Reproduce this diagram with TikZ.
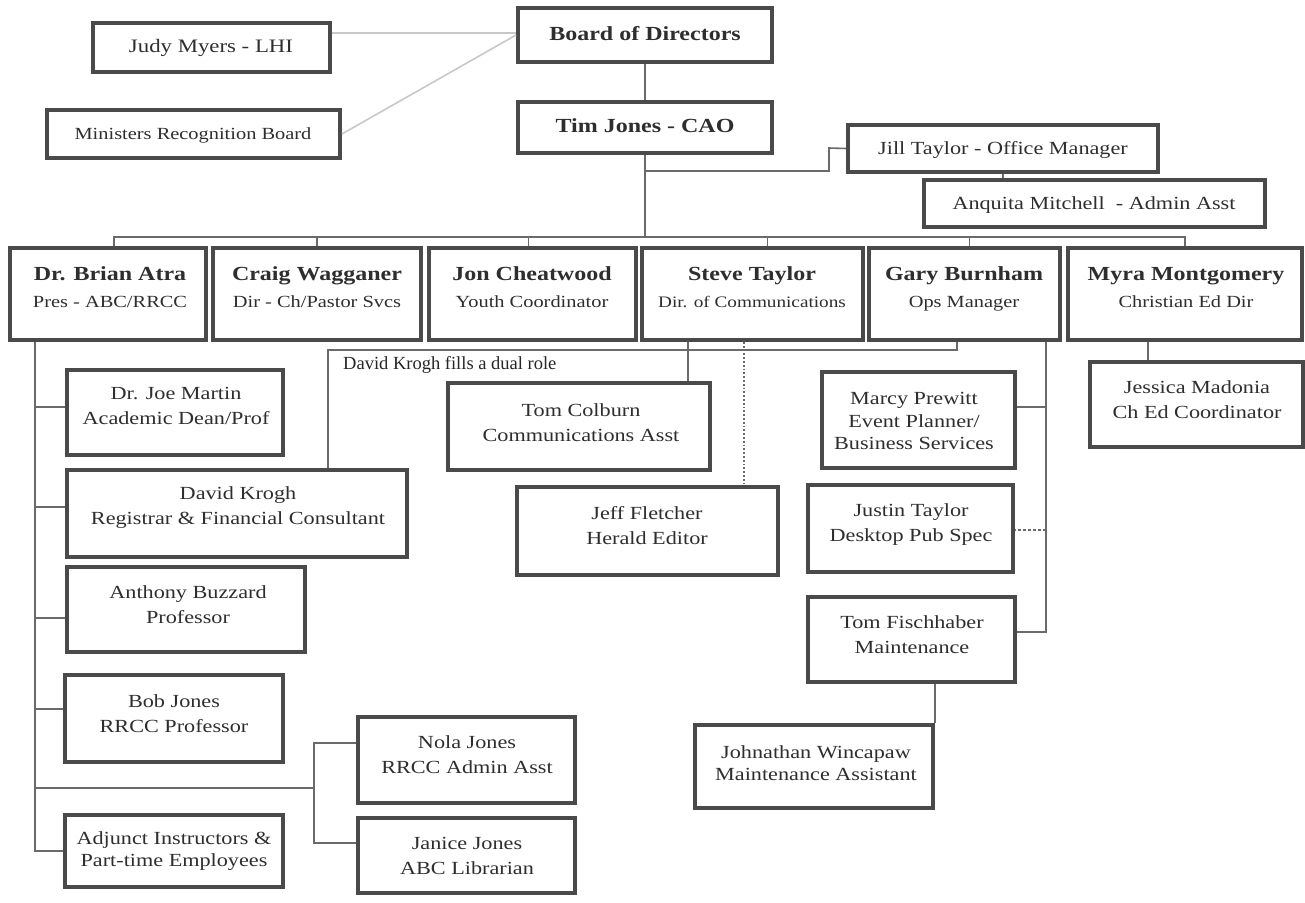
\documentclass[tikz,border=0pt]{standalone}
\usepackage{fontspec}
\setmainfont[FakeStretch=1.2]{Liberation Serif}
\newfontfamily\notefont{Liberation Serif}
\definecolor{ink}{HTML}{2E2E2E}
\definecolor{frame}{HTML}{4A4A4A}
\definecolor{wire}{HTML}{6A6A6A}
\definecolor{faint}{HTML}{C8C8C8}
\newcommand\card[5]{\node[card, minimum width={#4-#2}, minimum height={#5-#3}] (#1) at ({(#2+#4)/2},{(#3+#5)/2}) {};}
\begin{document}
\begin{tikzpicture}[x=1pt,y=-1pt,
  card/.style={draw=frame, line width=3.8pt, fill=white, inner sep=0pt},
  conn/.style={draw=wire, line width=1.6pt},
  faintconn/.style={draw=faint, line width=1.6pt},
  dotconn/.style={draw=wire, line width=1.8pt, dotted},
  dashconn/.style={draw=wire, line width=1.6pt, densely dashed},
  head/.style={text=ink, inner sep=0pt, font=\fontsize{20}{24}\selectfont\bfseries, text height=14pt, text depth=4pt},
  sub/.style={text=ink, inner sep=0pt, font=\fontsize{17}{20}\selectfont, text height=12pt, text depth=4pt},
  body/.style={text=ink, inner sep=0pt, align=center, font=\fontsize{18.5}{25}\selectfont},
  note/.style={text=black!85, inner sep=0pt, anchor=west, font=\notefont\fontsize{18.5}{22}\selectfont}]
\useasboundingbox (0,0) rectangle (1305,902);

% ---- boxes
\card{judy}{93}{23}{330}{72}
\card{ministers}{47}{110}{340}{158}
\card{board}{518}{8}{772}{62}
\card{tim}{518}{102}{772}{153}
\card{jill}{848}{125}{1158}{172}
\card{anquita}{924}{180}{1265}{227}
\card{brian}{10}{248}{206}{340}
\card{craig}{213}{248}{421}{340}
\card{jon}{429}{248}{636}{340}
\card{steve}{642}{248}{863}{340}
\card{gary}{869}{248}{1060}{340}
\card{myra}{1068}{248}{1302}{340}
\card{joe}{67}{370}{283}{455}
\card{krogh}{67}{470}{407}{557}
\card{anthony}{67}{567}{305}{652}
\card{bob}{65}{675}{283}{762}
\card{adjunct}{65}{815}{283}{887}
\card{nola}{358}{717}{575}{803}
\card{janice}{358}{818}{575}{893}
\card{tomc}{448}{383}{710}{470}
\card{jeff}{517}{487}{778}{575}
\card{marcy}{822}{372}{1015}{468}
\card{justin}{808}{485}{1013}{572}
\card{tomf}{808}{597}{1015}{682}
\card{johnathan}{695}{725}{933}{808}
\card{jessica}{1090}{362}{1303}{447}

% ---- texts
\node[head] (board-t) at (645,35) {Board of Directors};
\node[head] (tim-t) at (645,127) {Tim Jones - CAO};
\node[body, font=\fontsize{19}{22}\selectfont] (judy-t) at (211,48) {Judy Myers - LHI};
\node[body, font=\fontsize{17}{20}\selectfont] (ministers-t) at (193,135) {Ministers Recognition Board};
\node[body] (jill-t) at (1003,150) {Jill Taylor - Office Manager};
\node[body] (anquita-t) at (1094,205) {Anquita Mitchell\ \ - Admin Asst};

\node[head] (brian-n) at (110,275) {Dr. Brian Atra};
\node[sub]  (brian-s) at (110,303) {Pres - ABC/RRCC};
\node[head] (craig-n) at (317,275) {Craig Wagganer};
\node[sub]  (craig-s) at (317,303) {Dir - Ch/Pastor Svcs};
\node[head] (jon-n) at (532,275) {Jon Cheatwood};
\node[sub]  (jon-s) at (532,303) {Youth Coordinator};
\node[head] (steve-n) at (752,275) {Steve Taylor};
\node[sub, font=\fontsize{16}{20}\selectfont]  (steve-s) at (752,303) {Dir. of Communications};
\node[head] (gary-n) at (964,275) {Gary Burnham};
\node[sub]  (gary-s) at (964,303) {Ops Manager};
\node[head] (myra-n) at (1186,275) {Myra Montgomery};
\node[sub]  (myra-s) at (1186,303) {Christian Ed Dir};

\node[body] (joe-t) at (176,406) {Dr. Joe Martin\\Academic Dean/Prof};
\node[body] (krogh-t) at (238,508) {David Krogh\\Registrar \& Financial Consultant};
\node[body] (anthony-t) at (188,605) {Anthony Buzzard\\Professor};
\node[body] (bob-t) at (174,714) {Bob Jones\\RRCC Professor};
\node[body, font=\fontsize{18.5}{22}\selectfont] (adjunct-t) at (174,851) {Adjunct Instructors \&\\Part-time Employees};
\node[body] (nola-t) at (467,755) {Nola Jones\\RRCC Admin Asst};
\node[body] (janice-t) at (467,856) {Janice Jones\\ABC Librarian};
\node[body] (tomc-t) at (581,423) {Tom Colburn\\Communications Asst};
\node[body] (jeff-t) at (647,526) {Jeff Fletcher\\Herald Editor};
\node[body, font=\fontsize{18.5}{22.5}\selectfont] (marcy-t) at (914,421) {Marcy Prewitt\\Event Planner/\\Business Services};
\node[body] (justin-t) at (911,525) {Justin Taylor\\Desktop Pub Spec};
\node[body] (tomf-t) at (912,635) {Tom Fischhaber\\Maintenance};
\node[body, font=\fontsize{18.5}{22}\selectfont] (johnathan-t) at (816,763) {Johnathan Wincapaw\\Maintenance Assistant};
\node[body] (jessica-t) at (1197,400) {Jessica Madonia\\Ch Ed Coordinator};

\node[note] (dual-t) at (343,365) {David Krogh fills a dual role};

% ---- helper coordinates
\coordinate (busy) at (0,237);
\coordinate (judyy) at (0,33);
\coordinate (jillknee) at (829,148);
\coordinate (jilly) at (0,171);
\coordinate (spine) at (35,0);
\coordinate (njx) at (314,0);
\coordinate (gsp) at (1046,0);
\coordinate (dualx) at (328,0);
\coordinate (dualy) at (0,350);
\coordinate (dualr) at (957,0);
\coordinate (stevex) at (688,0);
\coordinate (dotx) at (744,0);
\coordinate (myrax) at (1148,0);

% ---- connectors
\draw[faintconn] (judy.east |- judyy) -- (board.west |- judyy);
\draw[faintconn] (ministers.east) -- (board.west);
\draw[conn] (board.south) -- (tim.north);
\draw[conn] (tim.south) -- (tim.south |- busy);
\draw[conn] (tim.south |- jilly) -| (jillknee) -- (jill.west);
\draw[conn] (jill.south) -- (anquita.north -| jill.south);

\draw[conn] ([xshift=6pt]brian.north) -- ([xshift=6pt]brian.north |- busy) -- (myra.north |- busy) -- (myra.north);
\foreach \n/\dx in {craig/0, jon/-4, steve/15, gary/5}
  \draw[conn] ([xshift=\dx pt]\n.north) -- ([xshift=\dx pt]\n.north |- busy);

% Brian's spine
\draw[conn] (brian.south -| spine) |- (adjunct.west);
\foreach \n/\y in {joe/407, krogh/507, anthony/618, bob/709}
  \draw[conn] (spine |- 0,\y) -- (\n.west |- 0,\y);
\draw[conn] (spine |- 0,788) -- (njx |- 0,788);
\draw[conn] (nola.west |- 0,743) -- (njx |- 0,743) -- (njx |- 0,843) -- (janice.west |- 0,843);

% dual role
\draw[conn] (gary.south -| dualr) -- (dualr |- dualy) -- (dualx |- dualy) -- (krogh.north -| dualx);

% Steve
\draw[conn] (steve.south -| stevex) -- (tomc.north -| stevex);
\draw[dotconn] (steve.south -| dotx) -- (jeff.north -| dotx);

% Gary
\draw[conn] (gary.south -| gsp) -- (gsp |- 0,632) -- (tomf.east |- 0,632);
\draw[conn] (gsp |- 0,407) -- (marcy.east |- 0,407);
\draw[dashconn] (gsp |- 0,530) -- (justin.east |- 0,530);
\draw[conn] (tomf.south -| johnathan.north east) -- (johnathan.north east);

% Myra
\draw[conn] (myra.south -| myrax) -- (jessica.north -| myrax);
\end{tikzpicture}
\end{document}
